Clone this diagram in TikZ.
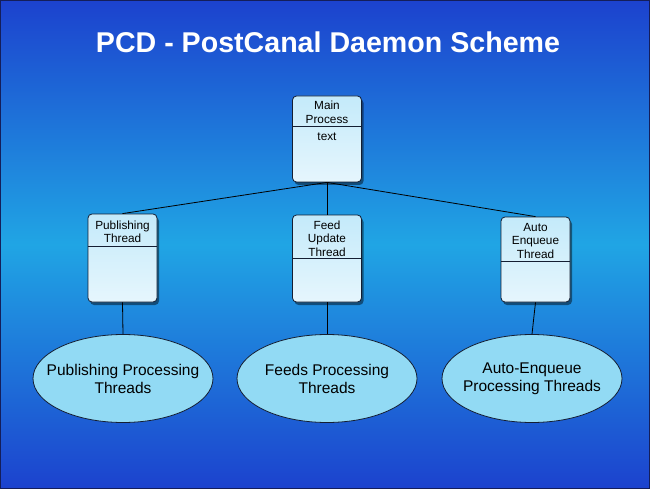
\documentclass[tikz,border=0pt]{standalone}
\usepackage{fontspec}
\setmainfont{Liberation Sans}
\usetikzlibrary{shapes.geometric,shadows,calc}
\definecolor{bgdark}{RGB}{28,66,206}
\definecolor{bgmid}{RGB}{32,165,228}
\definecolor{frame}{RGB}{20,30,90}
\definecolor{boxtop}{RGB}{196,234,250}
\definecolor{boxbot}{RGB}{230,246,253}
\definecolor{ellfill}{RGB}{146,218,244}
\definecolor{inkline}{RGB}{20,30,50}
\tikzset{
  classbox/.style={draw=inkline, line width=0.8pt, rounded corners=4pt,
    top color=boxtop, bottom color=boxbot, minimum width=69pt,
    drop shadow={shadow xshift=2pt, shadow yshift=-3pt, opacity=0.45, fill=black}},
  boxlabel/.style={font=\fontsize{11.8}{13.4}\selectfont, text=black, align=center, anchor=north, inner sep=0pt},
  proc/.style={ellipse, draw=inkline, line width=0.8pt, fill=ellfill,
    minimum width=180pt, minimum height=88pt, inner xsep=-15pt, inner ysep=0pt,
    font=\fontsize{15.5}{18}\selectfont, align=center, text=black},
  conn/.style={draw=black, line width=0.8pt},
  divider/.style={draw=inkline, line width=1pt}
}
\begin{document}
\begin{tikzpicture}[x=1pt,y=-1pt]
\useasboundingbox (0,0) rectangle (650,489);
\shade[top color=bgdark, bottom color=bgdark, middle color=bgmid] (0,0) rectangle (650,489);
\draw[frame, line width=1pt] (0.5,0.5) rectangle (649.5,488.5);
\node[font=\bfseries\fontsize{28.6}{32}\selectfont, text=white] (title) at (328,42) {PCD - PostCanal Daemon Scheme};

% boxes
\node[classbox, minimum height=86pt] (main) at (327,139) {};
\node[classbox, minimum height=88pt] (pub) at (122.5,258) {};
\node[classbox, minimum height=87pt] (feed) at (327,258.5) {};
\node[classbox, minimum height=85pt] (auto) at (535.5,259.5) {};

\draw[divider] (main.west |- 0,127) -- (main.east |- 0,127);
\draw[divider] (pub.west |- 0,246) -- (pub.east |- 0,246);
\draw[divider] (feed.west |- 0,258) -- (feed.east |- 0,258);
\draw[divider] (auto.west |- 0,261) -- (auto.east |- 0,261);

\node[boxlabel] (mainlbl) at (327,101) {Main\\Process};
\node[boxlabel] (maintxt) at (327,132.5) {text};
\node[boxlabel] (publbl) at (122.5,220.5) {Publishing\\Thread};
\node[boxlabel] (feedlbl) at (327,220.5) {Feed\\Update\\Thread};
\node[boxlabel] (autolbl) at (535.5,223) {Auto\\Enqueue\\Thread};

% ellipses
\node[proc] (pubp) at (123,378.5) {Publishing Processing\\Threads};
\node[proc] (feedp) at (327,378.5) {Feeds Processing\\Threads};
\node[proc] (autop) at (532,378.5) {Auto-Enqueue\\Processing Threads};

% connectors
\draw[conn] (main.south) -- (pub.north);
\draw[conn] (main.south) -- (feed.north);
\draw[conn] (main.south) -- (auto.north);
\draw[conn] (pub.south) -- (pubp.north);
\draw[conn] (feed.south) -- (feedp.north);
\draw[conn] (auto.south) -- (autop.north);
\end{tikzpicture}
\end{document}
